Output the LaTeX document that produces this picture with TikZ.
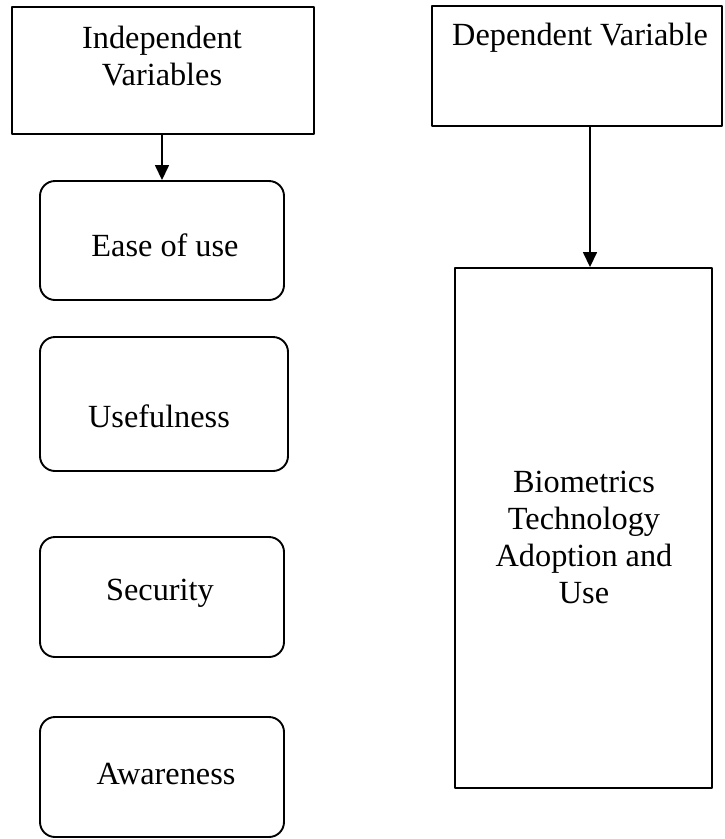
\documentclass[tikz,border=0pt]{standalone}
\usepackage{fontspec}
\setmainfont{Liberation Serif}
\usetikzlibrary{arrows.meta}

\tikzset{
	box/.style={draw, line width=1.9pt, inner sep=0pt},
	roundbox/.style={box, rounded corners=15pt},
	lbl/.style={anchor=base, align=center, inner sep=0pt}
}

\begin{document}
\begin{tikzpicture}[x=1pt, y=-1pt, font=\fontsize{32.3}{37}\selectfont, line join=round, >={Triangle[width=14pt,length=15pt]}]
	\useasboundingbox (0,0) rectangle (724,839);
	% headings
	\node[box, minimum width=302pt, minimum height=127pt] (indep) at (163,70.5) {};
	\node[lbl] (indep-lbl) at (162,85) {Independent\\Variables};
	\node[box, minimum width=290pt, minimum height=120pt] (dep) at (577,66) {};
	\node[lbl] (dep-lbl) at (580,45) {Dependent Variable};
	% independent variables
	\foreach \n/\r/\t/\b/\tx/\base/\txt in {ease/284/181/300/165/256/Ease of use,
			useful/288/337/471/159/427/Usefulness,
			secur/284/537/657/160/600/Security,
			aware/284/717/837/166/784/Awareness}{
		\node[roundbox, minimum width={(\r-40)*1pt}, minimum height={(\b-\t)*1pt}] (\n) at ({(\r+40)/2},{(\t+\b)/2}) {};
		\node[lbl] (\n-lbl) at (\tx,\base) {\txt};
	}
	% dependent variable
	\node[box, minimum width=257pt, minimum height=520pt] (bio) at (583.5,528) {};
	\node[lbl] (bio-lbl) at (584,603) {Biometrics\\Technology\\Adoption and\\Use};
	\draw[->, line width=1.5pt] (indep.south -| ease.north) -- (ease.north);
	\draw[->, line width=1.5pt] ([xshift=13pt]dep.south) -- ([xshift=13pt]dep.south |- bio.north);
\end{tikzpicture}
\end{document}
